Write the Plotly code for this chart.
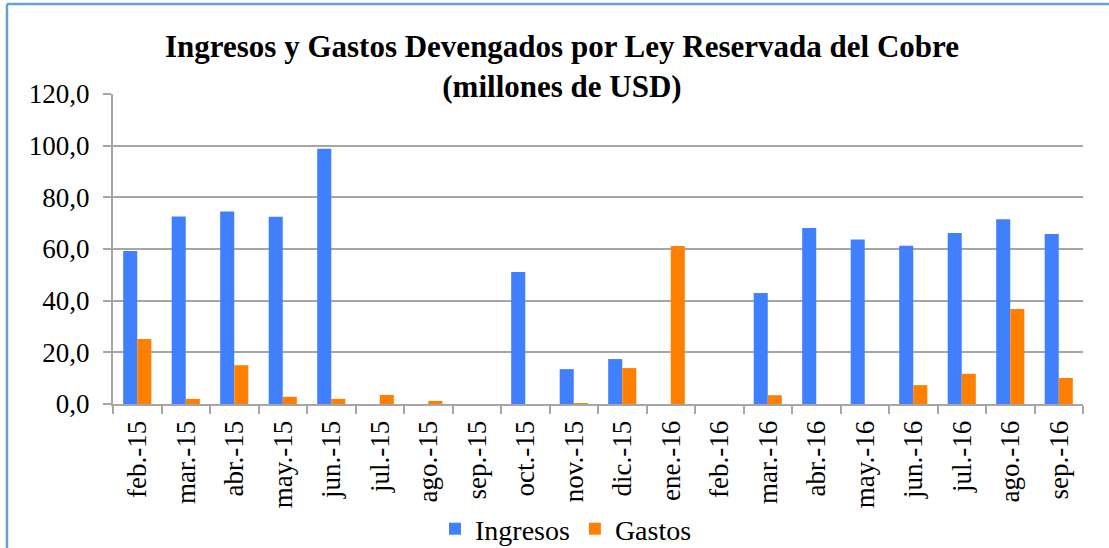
import plotly.graph_objects as go

categories = ["feb.-15", "mar.-15", "abr.-15", "may.-15", "jun.-15", "jul.-15", "ago.-15",
              "sep.-15", "oct.-15", "nov.-15", "dic.-15", "ene.-16", "feb.-16", "mar.-16",
              "abr.-16", "may.-16", "jun.-16", "jul.-16", "ago.-16", "sep.-16"]
ingresos = [59.2, 72.6, 74.5, 72.5, 98.8, 0.0, 0.0, 0.0, 51.1, 13.5, 17.4, 0.0, 0.0, 43.0,
            68.1, 63.7, 61.3, 66.2, 71.5, 65.8]
gastos = [25.2, 2.0, 15.0, 2.8, 2.0, 3.5, 1.2, 0.0, 0.0, 0.3, 13.9, 61.2, 0.0, 3.4,
          0.0, 0.0, 7.3, 11.7, 36.8, 10.1]
y_ticks = [0, 20, 40, 60, 80, 100, 120]

W, H = 1109, 548
ML, MR, MT, MB = 113, 26, 94, 144
PW, PH = W - ML - MR, H - MT - MB

FONT = "Liberation Serif"
GRID = "#A6A6A6"

fig = go.Figure()
fig.add_trace(go.Bar(x=categories, y=ingresos, name="Ingresos", marker_color="#4080FF",
                     marker_line_width=0))
fig.add_trace(go.Bar(x=categories, y=gastos, name="Gastos", marker_color="#FF8000",
                     marker_line_width=0))

def px_x(p):
    return (p - ML) / PW

def px_y(p):
    return (H - MB - p) / PH

fig.update_layout(
    width=W, height=H,
    margin=dict(l=ML, r=MR, t=MT, b=MB, autoexpand=False),
    paper_bgcolor="white", plot_bgcolor="white",
    separators=",.",
    barmode="group", bargap=0.42, bargroupgap=0,
    font=dict(family=FONT, size=27, color="black"),
    title=dict(text="<b>Ingresos y Gastos Devengados por Ley Reservada del Cobre<br>(millones de USD)</b>",
               x=562 / W, xanchor="center", xref="container",
               y=1 - 57 / H, yanchor="top", yref="container",
               font=dict(family=FONT, size=31, color="black")),
    showlegend=True,
    legend=dict(orientation="h", x=px_x(566), xanchor="center", y=px_y(529), yanchor="middle",
                font=dict(family=FONT, size=28), bgcolor="rgba(0,0,0,0)",
                tracegroupgap=0),
    xaxis=dict(type="category", tickangle=-90, tickson="boundaries", ticks="outside",
               ticklen=8, tickcolor=GRID, tickwidth=2, showline=True, linecolor=GRID,
               linewidth=2, showgrid=False, automargin=False, ticklabelstandoff=4,
               tickfont=dict(family=FONT, size=27)),
    yaxis=dict(range=[0, 120], tickvals=y_ticks, tickformat=".1f", ticks="outside",
               ticklen=8, tickcolor=GRID, tickwidth=2, showline=True, linecolor=GRID,
               linewidth=2, showgrid=True, gridcolor=GRID, gridwidth=2, zeroline=False,
               automargin=False, ticklabelstandoff=8,
               tickfont=dict(family=FONT, size=27)),
    shapes=[
        dict(type="line", xref="paper", yref="paper", x0=px_x(7), x1=px_x(W + 5),
             y0=px_y(4), y1=px_y(4), line=dict(color="#6A9FD6", width=2.5)),
        dict(type="line", xref="paper", yref="paper", x0=px_x(7), x1=px_x(7),
             y0=px_y(4), y1=px_y(H + 5), line=dict(color="#6A9FD6", width=2.5)),
    ],
)

fig.write_html("out.html", config={"displayModeBar": False},
               post_script="document.body.style.margin='0';document.body.style.overflow='hidden';")
